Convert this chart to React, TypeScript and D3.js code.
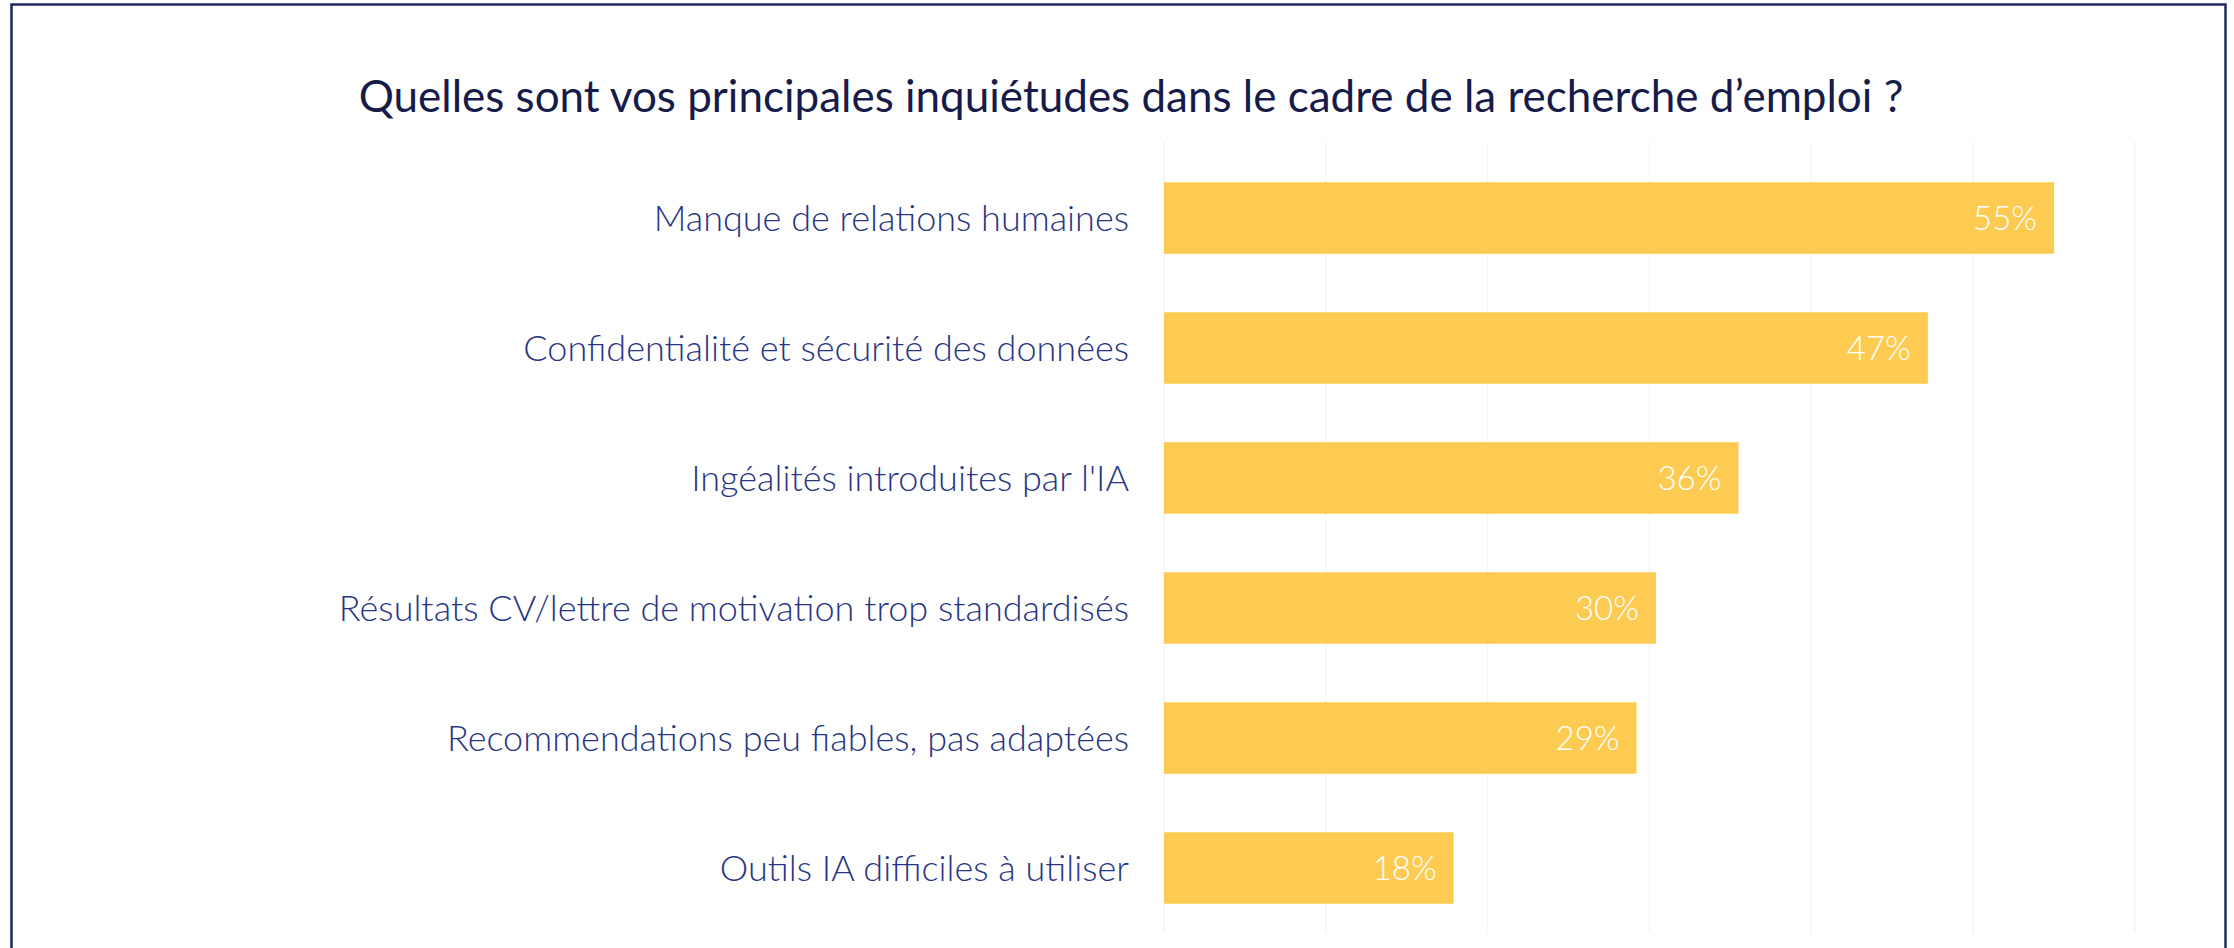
import React from "react";
import * as d3 from "d3";

const categories = [
  "Manque de relations humaines",
  "Confidentialité et sécurité des données",
  "Ingéalités introduites par l'IA",
  "Résultats CV/lettre de motivation trop standardisés",
  "Recommendations peu fiables, pas adaptées",
  "Outils IA difficiles à utiliser",
];
const values = [55.0, 47.2, 35.5, 30.4, 29.2, 17.9];
const valueLabels = ["55%", "47%", "36%", "30%", "29%", "18%"];
const gridTicks = [0, 10, 20, 30, 40, 50, 60];
const title = "Quelles sont vos principales inquiétudes dans le cadre de la recherche d\u2019emploi ?";

const W = 2234;
const H = 948;

export default function App() {
  const x = d3.scaleLinear().domain([0, 60]).range([1164, 2135]);
  const y = d3.scaleBand<string>().domain(categories).range([153, 933]).paddingInner(0.45).paddingOuter(0.225);
  const font = "Lato, 'Open Sans', sans-serif";
  return (
    <svg width={W} height={H} style={{ position: "absolute", left: 0, top: 0, background: "#fff" }}>
      <rect x={11.5} y={4.5} width={2214} height={1000} fill="#fff" stroke="#1f2a5c" strokeWidth={2.5} />
      {gridTicks.map((t) => (
        <line key={t} x1={x(t)} x2={x(t)} y1={142} y2={933} stroke="#f5f5f5" strokeWidth={1.5} />
      ))}
      <text x={1131} y={112} textAnchor="middle" fontFamily={font} fontSize={44} fill="#161b4a">
        {title}
      </text>
      {categories.map((c, i) => {
        const by = y(c)!;
        const bh = y.bandwidth();
        return (
          <g key={c}>
            <rect x={x(0)} y={by} width={x(values[i]) - x(0)} height={bh} fill="#fecb52" />
            <text x={1129} y={by + bh / 2} dy="0.35em" textAnchor="end" fontFamily={font} fontWeight={300} fontSize={36} fill="#283583">
              {c}
            </text>
            <text x={x(values[i]) - 17} y={by + bh / 2} dy="0.35em" textAnchor="end" fontFamily={font} fontWeight={300} fontSize={33} fill="#ffffff">
              {valueLabels[i]}
            </text>
          </g>
        );
      })}
    </svg>
  );
}
